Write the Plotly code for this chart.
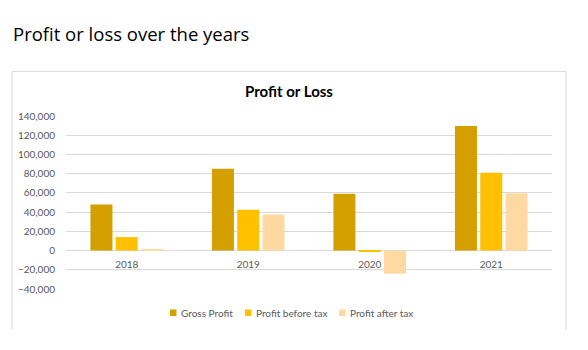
import plotly.graph_objects as go

years = ["2018", "2019", "2020", "2021"]
gross_profit = [48000, 85000, 59000, 129500]
profit_before_tax = [14000, 42500, -1500, 81000]
profit_after_tax = [1000, 37500, -24000, 59500]
series_names = ["Gross Profit", "Profit before tax", "Profit after tax"]
colors = ["#D4A000", "#FFC000", "#FFD9A1"]
y_ticks = list(range(-40000, 140001, 20000))

W, H = 588, 350
L, R, T, B = 66, 552, 115.7, 289.0
pw, ph = R - L, B - T

def px(x):
    return (x - L) / pw

def py(y):
    return (B - y) / ph

fig = go.Figure()
for name, vals, c in zip(series_names, [gross_profit, profit_before_tax, profit_after_tax], colors):
    fig.add_trace(go.Bar(x=years, y=vals, name=name, marker=dict(color=c, line=dict(width=0))))

shapes = [
    dict(type="line", xref="paper", yref="paper", x0=px(12), x1=px(566), y0=py(71), y1=py(71),
         line=dict(color="#D9D9D9", width=1)),
    dict(type="line", xref="paper", yref="paper", x0=px(12), x1=px(12), y0=py(71), y1=py(330),
         line=dict(color="#D9D9D9", width=1)),
    dict(type="line", xref="paper", yref="paper", x0=px(566), x1=px(566), y0=py(71), y1=py(330),
         line=dict(color="#D9D9D9", width=1)),
]
annotations = [
    dict(text="Profit or loss over the years", xref="paper", yref="paper", x=px(11), y=py(33),
         xanchor="left", yanchor="middle", showarrow=False,
         font=dict(family="'Open Sans', 'Noto Sans', sans-serif", size=18.5, color="#000000")),
    dict(text="<b>Profit or Loss</b>", xref="paper", yref="paper", x=px(289), y=py(91),
         xanchor="center", yanchor="middle", showarrow=False,
         font=dict(family="Lato, sans-serif", size=15, color="#000000")),
]

# manual legend (small squares + labels)
legend_x = [170, 245, 339]
for name, c, lx in zip(series_names, colors, legend_x):
    shapes.append(dict(type="rect", xref="paper", yref="paper", x0=px(lx), x1=px(lx + 6.5),
                       y0=py(316), y1=py(309.5), fillcolor=c, line=dict(width=0)))
    annotations.append(dict(text=name, xref="paper", yref="paper", x=px(lx + 8.5), y=py(312.7),
                            xanchor="left", yanchor="middle", showarrow=False,
                            font=dict(family="Lato, sans-serif", size=10, color="#595959")))

fig.update_layout(
    width=W, height=H,
    margin=dict(l=L, r=W - R, t=T, b=H - B, pad=0),
    paper_bgcolor="white", plot_bgcolor="white",
    barmode="group", bargap=0.375, bargroupgap=0.13,
    font=dict(family="Lato, 'Open Sans', sans-serif", size=10, color="#595959"),
    showlegend=False,
    xaxis=dict(type="category", anchor="free", position=40000 / 180000, showline=False,
               showgrid=False, ticks="", tickfont=dict(size=10, color="#595959"), ticklabelstandoff=6),
    yaxis=dict(range=[-40000, 140000], tickvals=y_ticks, tickformat=",", showgrid=True,
               gridcolor="#D9D9D9", gridwidth=1, zeroline=False, showline=False, ticks="",
               tickfont=dict(size=10, color="#595959"), ticklabelstandoff=10),
    shapes=shapes,
    annotations=annotations,
)

fig.write_html("out.html")
